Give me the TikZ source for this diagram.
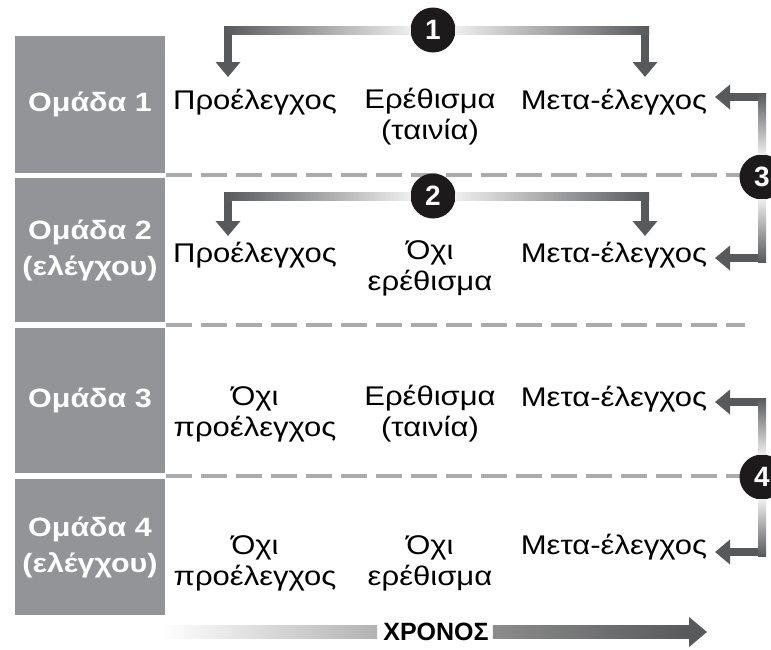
\documentclass[tikz,border=0pt]{standalone}
\usepackage{fontspec}
\setmainfont{Liberation Sans}[FakeStretch=1.15]
\newfontfamily\timefont{Liberation Sans}
\usetikzlibrary{arrows.meta,calc}
\definecolor{boxgray}{RGB}{147,148,151}
\definecolor{dashgray}{RGB}{170,171,173}
\definecolor{arrdark}{RGB}{88,89,91}
\definecolor{arrlight}{RGB}{238,238,238}
\definecolor{numblack}{RGB}{28,26,26}
\begin{document}
\begin{tikzpicture}
  [x=1pt, y=1pt,
   group/.style={fill=boxgray, text=white, font=\bfseries\fontsize{26.5}{36}\selectfont,
                 minimum width=150pt, inner sep=0pt, align=center},
   phase/.style={font=\fontsize{27}{31}\selectfont, inner sep=0pt, align=center},
   num/.style={circle, fill=numblack, text=white, font=\timefont\bfseries\fontsize{28}{28}\selectfont,
               minimum size=45pt, inner sep=0pt},
   sep/.style={dashgray, line width=4pt, dash pattern=on 26pt off 9pt},
   brk/.style={arrdark, line width=8pt, -{Triangle[width=24pt,length=15pt]}}]
  \useasboundingbox (0,0) rectangle (771,-649);

  \node[group, minimum height=137pt] (g1) at (90,-104.5) {Ομάδα 1};
  \node[group, minimum height=144pt] (g2) at (90,-250) {Ομάδα 2\\(ελέγχου)};
  \node[group, minimum height=145pt] (g3) at (90,-400.5) {Ομάδα 3};
  \node[group, minimum height=136pt] (g4) at (90,-547) {Ομάδα 4\\(ελέγχου)};

  \draw[sep] (166,-175) -- (745,-175);
  \draw[sep] (166,-325) -- (745,-325);
  \draw[sep] (166,-476) -- (745,-476);

  \node[phase] (pre1) at (255,-102) {Προέλεγχος};
  \node[phase] (stim1) at (430,-117) {Ερέθισμα\\(ταινία)};
  \node[phase] (post1) at (614,-102) {Μετα-έλεγχος};
  \node[phase] (pre2) at (255,-255) {Προέλεγχος};
  \node[phase] (stim2) at (430,-268) {Όχι\\ερέθισμα};
  \node[phase] (post2) at (614,-255) {Μετα-έλεγχος};
  \node[phase] (pre3) at (255,-414) {Όχι\\προέλεγχος};
  \node[phase] (stim3) at (430,-414) {Ερέθισμα\\(ταινία)};
  \node[phase] (post3) at (614,-399) {Μετα-έλεγχος};
  \node[phase] (pre4) at (255,-563) {Όχι\\προέλεγχος};
  \node[phase] (stim4) at (430,-563) {Όχι\\ερέθισμα};
  \node[phase] (post4) at (614,-547) {Μετα-έλεγχος};

  \node[num] (n1) at (433,-30) {1};
  \node[num] (n2) at (433,-196) {2};
  \node[num] (n3) at (762,-177) {3};
  \node[num] (n4) at (762,-477) {4};

  \coordinate (t1a) at (228,-77);
  \coordinate (t1b) at (645,-77);
  \coordinate (t2a) at (228,-236);
  \coordinate (t2b) at (645,-236);
  \coordinate (t3a) at (715,-97);
  \coordinate (t3b) at (715,-258);
  \coordinate (t4a) at (715,-402);
  \coordinate (t4b) at (715,-552);

  \foreach \n/\a/\b in {n1/t1a/t1b, n2/t2a/t2b} {
    \draw[brk] (\n.west) -| (\a);
    \draw[brk] (\n.east) -| (\b);
    \shade[left color=arrdark, right color=arrlight]
      ($(\a |- \n.west)+(-4,4)$) rectangle ($(\n.west)+(0,-4)$);
    \shade[left color=arrlight, right color=arrdark]
      ($(\n.east)+(0,4)$) rectangle ($(\b |- \n.east)+(4,-4)$);
  }
  \foreach \n/\a/\b in {n3/t3a/t3b, n4/t4a/t4b} {
    \draw[brk] (\n.north) |- (\a);
    \draw[brk] (\n.south) |- (\b);
    \shade[top color=arrdark, bottom color=arrlight]
      ($(\n.north |- \a)+(-4,4)$) rectangle ($(\n.north)+(4,0)$);
    \shade[top color=arrlight, bottom color=arrdark]
      ($(\n.south)+(-4,0)$) rectangle ($(\n.south |- \b)+(4,-4)$);
  }

  \node[font=\timefont\bfseries\fontsize{25}{25}\selectfont, inner sep=0pt] (time) at (436,-632) {ΧΡΟΝΟΣ};
  \coordinate (ts) at (162,-632);
  \coordinate (te) at (707,-632);
  \shade[left color=white, right color=black!30]
    ($(ts)+(0,6.5)$) rectangle ($(time.west)+(-6,-6.5)$);
  \draw[arrdark, line width=13pt, -{Triangle[width=29pt,length=18pt]}] ([xshift=4pt]time.east) -- (te);
  \shade[left color=black!45, right color=arrdark]
    ($(time.east)+(4,6.5)$) rectangle ($(te)+(-18,-6.5)$);
\end{tikzpicture}
\end{document}
